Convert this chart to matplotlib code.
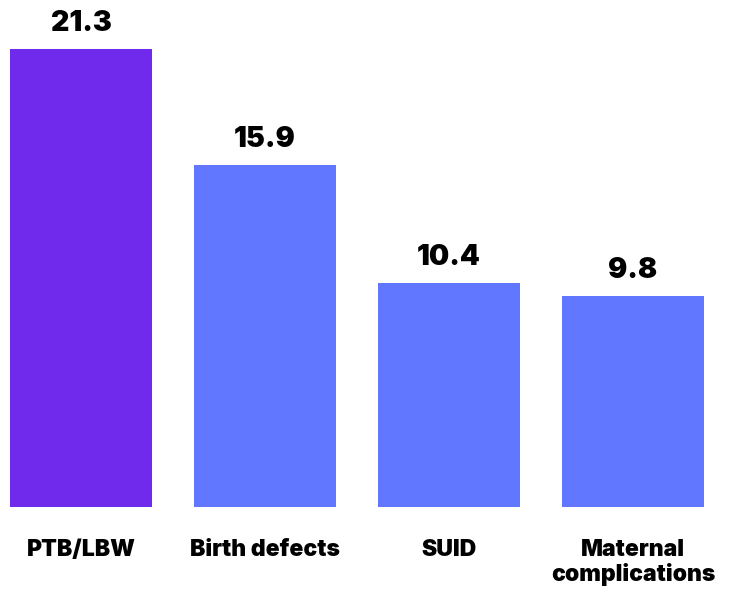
import matplotlib
matplotlib.use("Agg")
import matplotlib.pyplot as plt

categories = ["PTB/LBW", "Birth defects", "SUID", "Maternal\ncomplications"]
values = [21.3, 15.9, 10.4, 9.8]
colors = ["#6F2AEB", "#6277FF", "#6277FF", "#6277FF"]

plt.rcParams["font.family"] = ["Inter", "DejaVu Sans"]

fig = plt.figure(figsize=(7.35, 5.89), dpi=100)
ax = fig.add_axes([0, 82 / 589, 1, 507 / 589])

x = range(len(categories))
ax.bar(x, values, width=0.772, color=colors)

# value labels above each bar
for xi, v in zip(x, values):
    ax.annotate(f"{v}", (xi, v), xytext=(0, 13), textcoords="offset points",
                ha="center", va="baseline", fontsize=20.5, fontweight="black")

ax.set_xlim(-0.44, 3.554)
ax.set_ylim(0, 507 / 21.5)
ax.set_xticks(list(x))
ax.set_xticklabels(categories, fontsize=16.5, fontweight="black", linespacing=1.12)
ax.tick_params(axis="x", length=0, pad=23)
ax.set_yticks([])
for s in ax.spines.values():
    s.set_visible(False)

fig.savefig("out.png", dpi=100)
